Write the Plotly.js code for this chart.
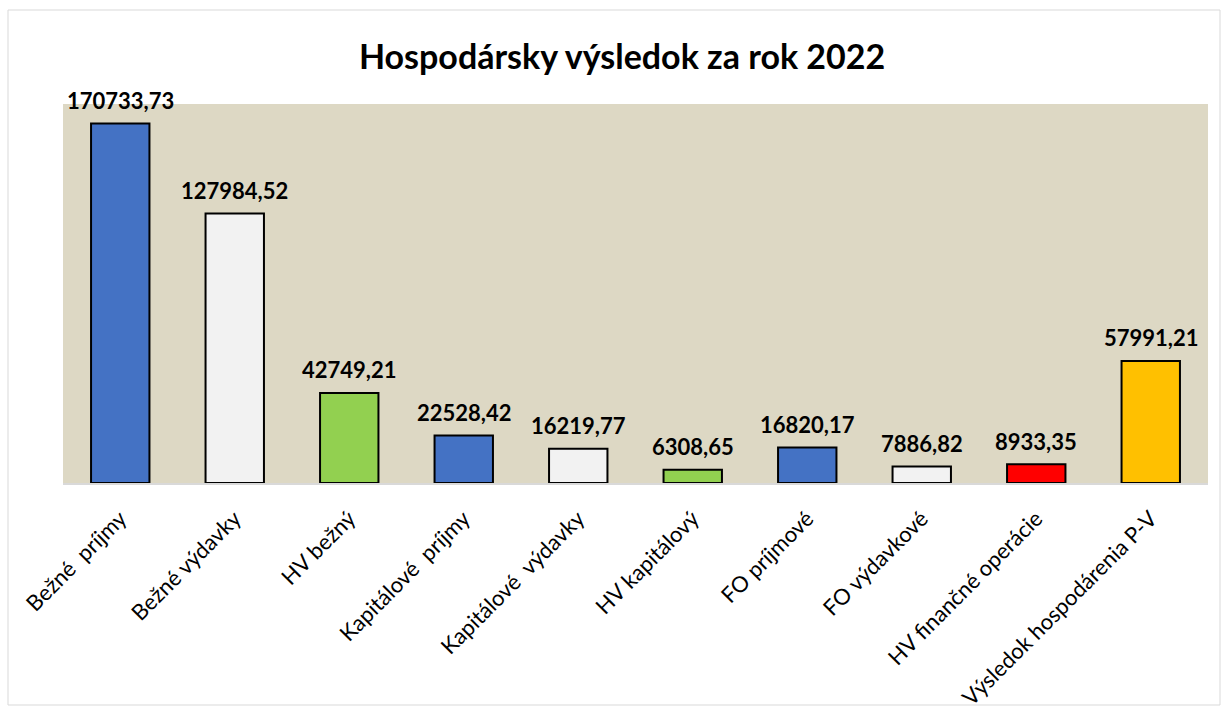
<!DOCTYPE html>
<html>
<head>
<meta charset="utf-8">
<script src="https://cdn.plot.ly/plotly-3.0.1.min.js"></script>
<style>html,body{margin:0;padding:0;background:#fff;}#chart{width:1227px;height:715px;}</style>
</head>
<body>
<div id="chart"></div>
<script>
const categories = ["Bežné\u00a0 príjmy","Bežné výdavky","HV bežný","Kapitálové\u00a0 príjmy","Kapitálové\u00a0 výdavky","HV kapitálový","FO príjmové","FO výdavkové","HV finančné operácie","Výsledok hospodárenia P-V"];
const values = [170733.73,127984.52,42749.21,22528.42,16219.77,6308.65,16820.17,7886.82,8933.35,57991.21];
const barColors = ["#4472C4","#F2F2F2","#92D050","#4472C4","#F2F2F2","#92D050","#4472C4","#F2F2F2","#FF0000","#FFC000"];
const labels = values.map(v => v.toFixed(2).replace('.', ','));

const W = 1227, H = 715;
const m = {l:63, r:19, t:104, b:232};
const pw = W - m.l - m.r, ph = H - m.t - m.b;
const px = p => (p - m.l) / pw;
const py = p => (H - m.b - p) / ph;

const font = "Lato, 'Open Sans', sans-serif";

const annotations = categories.map((c, i) => ({
  x: c, y: values[i], xref: 'x', yref: 'y', text: labels[i], showarrow: false,
  yanchor: 'middle', yshift: 23,
  font: {family: font, size: 22, color: '#000', weight: 'bold'}
}));

Plotly.newPlot('chart', [{
  type: 'bar',
  x: categories,
  y: values,
  cliponaxis: false,
  marker: {color: barColors, line: {color: '#000', width: 2}},
  hoverinfo: 'x+y'
}], {
  width: W, height: H,
  margin: m,
  paper_bgcolor: '#fff',
  plot_bgcolor: '#DDD8C4',
  bargap: 0.49,
  showlegend: false,
  annotations: annotations,
  title: {text: 'Hospodársky výsledok za rok 2022', font: {family: font, size: 34, color: '#000', weight: 'bold'}, x: 0.507, xanchor: 'center', y: 1 - 57/H, yanchor: 'middle'},
  xaxis: {tickangle: -45, tickfont: {family: font, size: 22, color: '#000'}, showline: true, linecolor: '#D9D9D9', linewidth: 2, ticks: 'outside', ticklen: 12, tickcolor: 'rgba(0,0,0,0)', showgrid: false},
  yaxis: {range: [0, 180000], visible: false, showgrid: false, zeroline: false},
  shapes: [{type: 'rect', xref: 'paper', yref: 'paper', x0: px(8), x1: px(1220), y0: py(705), y1: py(10), line: {color: '#D9D9D9', width: 1}, layer: 'below'}]
}, {displayModeBar: false, staticPlot: true});
</script>
</body>
</html>
